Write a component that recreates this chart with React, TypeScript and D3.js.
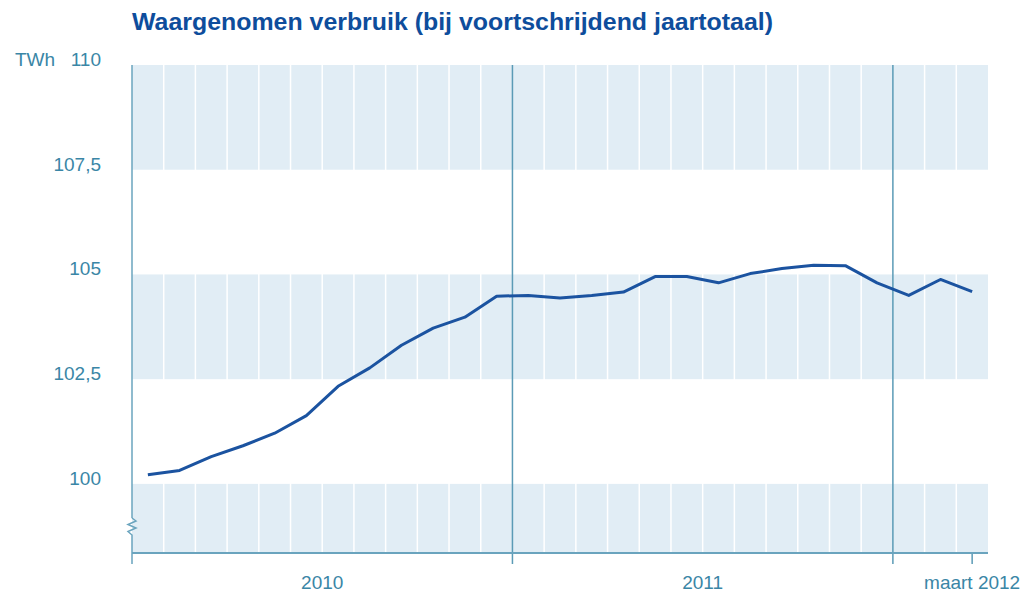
import React from "react";
import * as d3 from "d3";

const title = "Waargenomen verbruik (bij voortschrijdend jaartotaal)";
const unitLabel = "TWh";
// Monthly points, Jan 2010 .. Mar 2012
const months = [
  "2010-01","2010-02","2010-03","2010-04","2010-05","2010-06","2010-07","2010-08","2010-09","2010-10","2010-11","2010-12",
  "2011-01","2011-02","2011-03","2011-04","2011-05","2011-06","2011-07","2011-08","2011-09","2011-10","2011-11","2011-12",
  "2012-01","2012-02","2012-03",
];
const values = [
  100.22, 100.32, 100.65, 100.91, 101.21, 101.63, 102.33, 102.77, 103.31, 103.72, 103.98, 104.48,
  104.50, 104.44, 104.50, 104.58, 104.95, 104.95, 104.80, 105.02, 105.14, 105.22, 105.21, 104.80,
  104.50, 104.88, 104.59,
];
const yTicks = [100, 102.5, 105, 107.5, 110];
const yTickLabels = ["100", "102,5", "105", "107,5", "110"];
const yMin = 98.35;
const yMax = 110;
const shadedBands: [number, number][] = [[107.5, 110], [102.5, 105], [98.35, 100]];
const yearBoundaries = [12, 24];
const xLabels = [
  { pos: 6, text: "2010" },
  { pos: 18, text: "2011" },
  { pos: 26.5, text: "maart 2012" },
];
const extraTicks = [26.5];

const W = 1033;
const H = 592;
const left = 132;
const right = 988;
const top = 65;
const bottom = 553;

const TEXT = "#3a86a6";
const AXIS = "#6aa4be";
const YEAR = "#5b9bb6";
const BAND = "#e1edf5";
const LINE = "#1b53a0";
const TITLE = "#0e4d9c";

export default function App() {
  const x = d3.scaleLinear().domain([0, months.length]).range([left, right]);
  const y = d3.scaleLinear().domain([yMin, yMax]).range([bottom, top]);
  const line = d3
    .line<number>()
    .x((_, i) => x(i + 0.5))
    .y((d) => y(d));
  const monthLines = d3.range(1, months.length).filter((i) => !yearBoundaries.includes(i));
  const font = "'Liberation Sans', Arial, sans-serif";

  return (
    <svg width={W} height={H} style={{ position: "absolute", left: 0, top: 0 }}>
      <text
        x={132}
        y={29.5}
        fill={TITLE}
        fontFamily="'Liberation Sans Narrow', 'Liberation Sans', Arial, sans-serif"
        fontWeight="bold"
        fontSize={23}
        textLength={641}
        lengthAdjust="spacingAndGlyphs"
      >
        {title}
      </text>
      {shadedBands.map(([a, b], i) => (
        <rect key={i} x={left} y={y(b)} width={right - left} height={y(a) - y(b)} fill={BAND} />
      ))}
      {monthLines.map((i) => (
        <line key={i} x1={x(i)} x2={x(i)} y1={top} y2={bottom} stroke="#fff" strokeWidth={1.5} />
      ))}
      {yearBoundaries.map((i) => (
        <line key={i} x1={x(i)} x2={x(i)} y1={top} y2={564} stroke={YEAR} strokeWidth={1.5} />
      ))}
      {extraTicks.map((t) => (
        <line key={t} x1={x(t)} x2={x(t)} y1={bottom} y2={564} stroke={YEAR} strokeWidth={1.5} />
      ))}
      <line x1={left} x2={right} y1={bottom} y2={bottom} stroke={AXIS} strokeWidth={2} />
      <line x1={left} x2={left} y1={top} y2={518} stroke={AXIS} strokeWidth={1.5} />
      <path
        d={`M${left},518 L${left + 4},521 L${left - 4},524.5 L${left + 4},528 L${left - 4},531.5 L${left},535 L${left},564`}
        fill="none"
        stroke={AXIS}
        strokeWidth={1.5}
      />
      <path d={line(values) || ""} fill="none" stroke={LINE} strokeWidth={3} strokeLinejoin="round" />
      {yTicks.map((t, i) => (
        <text key={t} x={101} y={y(t) + 1} textAnchor="end" fill={TEXT} fontFamily={font} fontSize={19}>
          {yTickLabels[i]}
        </text>
      ))}
      <text x={15} y={y(110) + 1} fill={TEXT} fontFamily={font} fontSize={19}>
        {unitLabel}
      </text>
      {xLabels.map((l) => (
        <text key={l.text} x={x(l.pos)} y={589} textAnchor="middle" fill={TEXT} fontFamily={font} fontSize={19}>
          {l.text}
        </text>
      ))}
    </svg>
  );
}
